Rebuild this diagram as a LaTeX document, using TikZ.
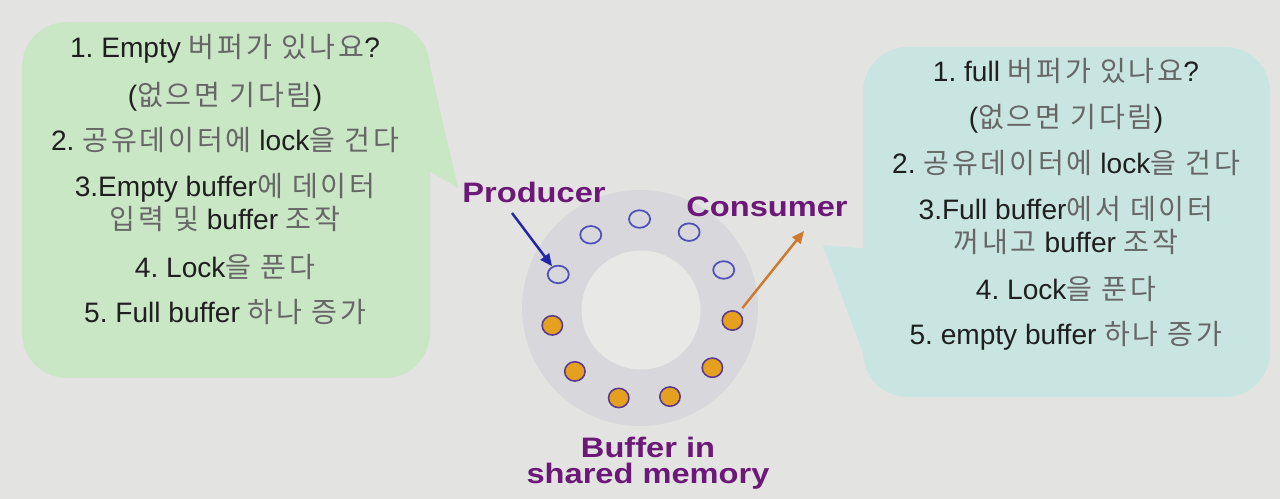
\documentclass[tikz,border=0pt]{standalone}
\usepackage{fontspec}
\setmainfont{Liberation Sans}
\newfontfamily\krfont[LetterSpace=10]{Noto Sans CJK KR}
\usetikzlibrary{shapes.geometric,arrows.meta}
\definecolor{sfondo}{HTML}{E3E3E1}
\definecolor{verde}{HTML}{C9E6C5}
\definecolor{azzurro}{HTML}{C9E5E1}
\definecolor{anello}{HTML}{D8D8DC}
\definecolor{interno}{HTML}{E8E8E6}
\definecolor{testo}{HTML}{1F1F1F}
\definecolor{grigiokr}{HTML}{666666}
\definecolor{viola}{HTML}{6B1878}
\definecolor{bluslot}{HTML}{5050B8}
\definecolor{violaslot}{HTML}{5A3A8C}
\definecolor{arancio}{HTML}{E6A020}
\definecolor{bluarr}{HTML}{2424A8}
\definecolor{arancioarr}{HTML}{D07A30}
\newcommand{\kr}[1]{{\krfont\color{grigiokr}#1}}
\newcommand{\largo}[1]{\scalebox{1.16}[1]{#1}}
\frenchspacing

\begin{document}
\begin{tikzpicture}[x=0.02cm, y=-0.02cm,
    riga/.style={font=\fontsize{16}{19}\selectfont, text=testo, inner sep=0pt, anchor=base},
    etichetta/.style={font=\fontsize{16}{19}\selectfont\bfseries, text=viola, inner sep=0pt, anchor=base},
    vuoto/.style={ellipse, draw=bluslot, line width=1pt, minimum width=12pt, minimum height=10pt, inner sep=0pt},
    pieno/.style={ellipse, draw=violaslot, fill=arancio, line width=0.9pt, minimum width=11.6pt, minimum height=11pt, inner sep=0pt},
    freccia/.style={-{Triangle[length=7pt,width=6pt]}, line width=1.4pt}]

        % Sfondo
        \fill[sfondo] (0,0) rectangle (1280,499);
        \useasboundingbox (0,0) rectangle (1280,499);

        % Fumetto del produttore
        \fill[verde, rounded corners=0.9cm] (22,22) rectangle (430,378);
        \fill[verde] (428,58) -- (458,188) -- (431,172) -- (400,172) -- (400,58) -- cycle;
        \node[riga] (l1) at (225,58) {1. Empty \kr{버퍼가 있나요}?};
        \node[riga] (l2) at (225,106) {(\kr{없으면 기다림})};
        \node[riga] (l3) at (225,151) {2. \kr{공유데이터에} lock\kr{을 건다}};
        \node[riga] (l4) at (225,197) {3.Empty buffer\kr{에 데이터}};
        \node[riga] (l5) at (225,230) {\kr{입력 및} buffer \kr{조작}};
        \node[riga] (l6) at (225,278) {4. Lock\kr{을 푼다}};
        \node[riga] (l7) at (225,323) {5. Full buffer \kr{하나 증가}};

        % Fumetto del consumatore
        \fill[azzurro, rounded corners=0.9cm] (863,47) rectangle (1270,397);
        \fill[azzurro] (880,250) -- (823,245) -- (870,372) -- (880,372) -- cycle;
        \node[riga] (r1) at (1066,82) {1. full \kr{버퍼가 있나요}?};
        \node[riga] (r2) at (1066,128) {(\kr{없으면 기다림})};
        \node[riga] (r3) at (1066,174) {2. \kr{공유데이터에} lock\kr{을 건다}};
        \node[riga] (r4) at (1066,220) {3.Full buffer\kr{에서 데이터}};
        \node[riga] (r5) at (1066,253) {\kr{꺼내고} buffer \kr{조작}};
        \node[riga] (r6) at (1066,300) {4. Lock\kr{을 푼다}};
        \node[riga] (r7) at (1066,345) {5. empty buffer \kr{하나 증가}};

        % Buffer circolare
        \fill[anello] (640,308) circle (2.36cm);
        \fill[interno] (641,310) circle (1.19cm);
        \foreach \i in {0,...,4}
            \node[vuoto] (s\i) at ({642+91*cos(157-\i*32.727)},{310-91*sin(157-\i*32.727)}) {};
        \foreach \i in {5,...,10}
            \node[pieno] (s\i) at ({642+91*cos(157-\i*32.727)},{310-91*sin(157-\i*32.727)}) {};

        % Etichette
        \node[etichetta] (prod) at (534,203) {\largo{Producer}};
        \node[etichetta] (cons) at (767,217) {\largo{Consumer}};
        \node[etichetta] (buf1) at (648,457) {\largo{Buffer in}};
        \node[etichetta] (buf2) at (648,483) {\largo{shared memory}};

        % Frecce
        \coordinate (prodcoda) at (512,213);
        \coordinate (conspunta) at (804,231);
        \draw[freccia, bluarr] (prodcoda) -- (s0);
        \draw[freccia, arancioarr, shorten <=3pt] (s5) -- (conspunta);
    \end{tikzpicture}
\end{document}
